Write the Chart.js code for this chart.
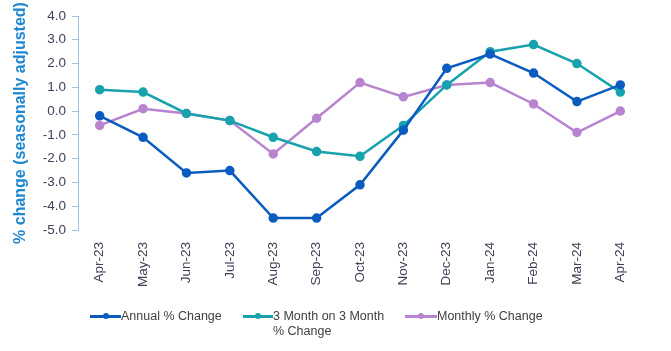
<!DOCTYPE html>
<html>
<head>
<meta charset="utf-8">
<script src="https://cdn.jsdelivr.net/npm/chart.js@4"></script>
<style>
  body { margin: 0; background: #fff; }
  #wrap { position: relative; width: 671px; height: 351px; }
  .leg { position: absolute; font-family: "Liberation Sans", Arial, sans-serif; font-size: 12.5px; color: #404040; line-height: 15px; }
  .leg .ln { position: absolute; height: 3px; top: -1.5px; }
  .leg .dot { position: absolute; width: 6px; height: 6px; border-radius: 50%; top: -3px; }
</style>
</head>
<body>
<div id="wrap">
  <canvas id="chart" width="671" height="351"></canvas>
</div>
<script>
const months = ['Apr-23', 'May-23', 'Jun-23', 'Jul-23', 'Aug-23', 'Sep-23', 'Oct-23', 'Nov-23', 'Dec-23', 'Jan-24', 'Feb-24', 'Mar-24', 'Apr-24'];
const annualChange = [-0.2, -1.1, -2.6, -2.5, -4.5, -4.5, -3.1, -0.8, 1.8, 2.4, 1.6, 0.4, 1.1];
const threeMonthChange = [0.9, 0.8, -0.1, -0.4, -1.1, -1.7, -1.9, -0.6, 1.1, 2.5, 2.8, 2.0, 0.8];
const monthlyChange = [-0.6, 0.1, -0.1, -0.4, -1.8, -0.3, 1.2, 0.6, 1.1, 1.2, 0.3, -0.9, 0.0];
const seriesNames = [['Annual % Change'], ['3 Month on 3 Month', '% Change'], ['Monthly % Change']];
const yTitle = '% change (seasonally adjusted)';

const colors = ['#0b5cbf', '#17a2ad', '#b884cf'];
const font = '"Liberation Sans", Arial, sans-serif';

function makeSet(name, data, color) {
	return {
		label: name.join(' '),
		data: data,
		borderColor: color,
		backgroundColor: color,
		borderWidth: 2.5,
		pointRadius: 3.5,
		pointHoverRadius: 3.5,
		tension: 0
	};
}

new Chart(document.getElementById('chart').getContext('2d'), {
	type: 'line',
	data: {
		labels: months,
		datasets: [
			makeSet(seriesNames[0], annualChange, colors[0]),
			makeSet(seriesNames[1], threeMonthChange, colors[1]),
			makeSet(seriesNames[2], monthlyChange, colors[2])
		]
	},
	options: {
		responsive: false,
		animation: false,
		layout: { padding: { top: 16, right: 29, bottom: 61, left: 0 } },
		plugins: { legend: { display: false }, tooltip: { enabled: false } },
		scales: {
			x: {
				offset: true,
				grid: { display: false },
				border: { display: false },
				ticks: {
					color: '#404058',
					font: { family: font, size: 13.5 },
					minRotation: 90,
					maxRotation: 90,
					padding: 4
				},
				afterFit: (s) => { s.height = 60; }
			},
			y: {
				min: -5,
				max: 4,
				ticks: {
					stepSize: 1,
					color: '#404058',
					font: { family: font, size: 13.5 },
					padding: 6,
					callback: (v) => v.toFixed(1)
				},
				grid: { drawOnChartArea: false, color: '#9dc3e6', tickLength: 6 },
				border: { color: '#9dc3e6', width: 1 },
				title: {
					display: true,
					text: yTitle,
					color: '#1f87d0',
					font: { family: font, size: 16, weight: 'bold' },
					padding: { top: 11, bottom: 0 }
				},
				afterFit: (s) => { s.width = 78; }
			}
		}
	}
});

// legend below the chart
const legendPos = [
	{ x: 90, w: 31, tx: 121 },
	{ x: 243, w: 30, tx: 273 },
	{ x: 405, w: 32, tx: 437 }
];
const wrap = document.getElementById('wrap');
seriesNames.forEach((name, i) => {
	const p = legendPos[i];
	const ln = document.createElement('div');
	ln.className = 'leg';
	ln.style.left = p.x + 'px';
	ln.style.top = '316px';
	ln.innerHTML = '<div class="ln" style="left:0;width:' + p.w + 'px;background:' + colors[i] + '"></div>' +
		'<div class="dot" style="left:' + (p.w / 2 - 3) + 'px;background:' + colors[i] + '"></div>';
	wrap.appendChild(ln);
	const tx = document.createElement('div');
	tx.className = 'leg';
	tx.style.left = p.tx + 'px';
	tx.style.top = '309px';
	tx.innerHTML = name.join('<br>');
	wrap.appendChild(tx);
});
</script>
</body>
</html>
